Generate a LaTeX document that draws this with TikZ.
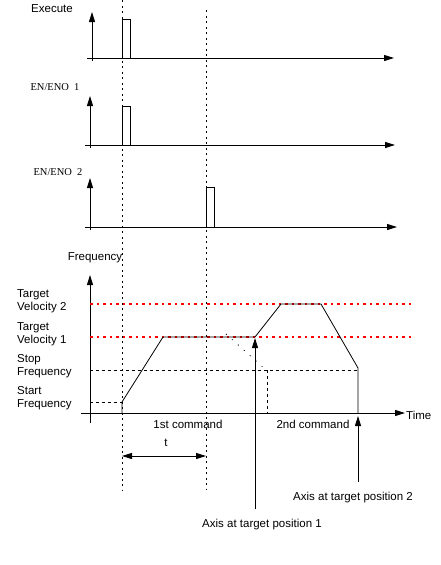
\documentclass[tikz,border=0pt]{standalone}
\usepackage{fontspec}
\setmainfont{Liberation Sans}
\newfontfamily\enofont{Liberation Serif}
\usetikzlibrary{arrows.meta}
\begin{document}
\begin{tikzpicture}[x=1pt, y=-1pt,
    axis/.style={line width=1pt, -{Triangle[length=10pt,width=6pt]}},
    pulse/.style={line width=0.8pt},
    guide/.style={line width=0.8pt, dash pattern=on 2pt off 3.5pt},
    level/.style={line width=0.8pt, dash pattern=on 3pt off 3pt},
    target/.style={red, line width=1.2pt, dash pattern=on 2.5pt off 4pt},
    lbl/.style={font=\fontsize{11.5}{13.5}\selectfont, inner sep=0pt},
    sig/.style={font=\enofont\fontsize{10.5}{12}\selectfont, inner sep=0pt},
    levlbl/.style={lbl, align=left, anchor=west}
]
\useasboundingbox (0,0) rectangle (440,565);

% Guides
\draw[guide] (122,0) -- (122,490);
\draw[guide] (206,10) -- (206,490);

% Execute
\node[lbl] (exec) at (52,9) {Execute};
\draw[axis] (92,61) -- (92,12);
\draw[axis] (87,58) -- (394,58);
\draw[pulse] (122,58) -- (122,19) -- (130,19) -- (130,58);

% EN/ENO 1
\node[sig] (eno1) at (55,87) {EN/ENO\ \ 1};
\draw[axis] (90,148) -- (90,96);
\draw[axis] (85,145) -- (395,145);
\draw[pulse] (122,145) -- (122,106) -- (130,106) -- (130,145);

% EN/ENO 2
\node[sig] (eno2) at (58,172) {EN/ENO\ \ 2};
\draw[axis] (90,230) -- (90,178);
\draw[axis] (85,227) -- (397,227);
\draw[pulse] (206,227) -- (206,187) -- (214,187) -- (214,227);

% Frequency
\node[lbl] (freq) at (95,258) {Frequency};
\draw[axis] (90,423) -- (90,275);
\draw[axis] (81,413) -- (405,413);
\node[lbl, anchor=west] (time) at (406,415) {Time};

% Levels
\node[levlbl] (tv2) at (17,301) {Target\\Velocity 2};
\node[levlbl] (tv1) at (17,334) {Target\\Velocity 1};
\node[levlbl] (stopf) at (17,366) {Stop\\Frequency};
\node[levlbl] (startf) at (17,398) {Start\\Frequency};
\draw[target] (90,304) -- (413,304);
\draw[target] (90,337) -- (413,337);
\draw[level] (90,370) -- (358,370);
\draw[level] (90,402) -- (122,402);

% Profile
\draw[pulse] (122,413) -- (122,402) -- (163,337) -- (255,337) -- (281,304)
    -- (321,304) -- (358,368) -- (358,413);
\draw[line width=0.8pt, dash pattern=on 1pt off 7pt] (226,334) -- (266,370);
\draw[level] (267,370) -- (267,413);

% Commands
\node[lbl] (cmd1) at (188,424) {1st command};
\node[lbl] (cmd2) at (313,424) {2nd command};
\node[lbl] (tlbl) at (166,443) {t};
\coordinate (tstart) at (122,456);
\coordinate (tend) at (206,456);
\draw[line width=1pt, {Triangle[length=10pt,width=6pt]}-{Triangle[length=10pt,width=6pt]}] (tstart) -- (tend);

% Target positions
\node[lbl] (pos1) at (262,525) {Axis at target position 1};
\node[lbl] (pos2) at (353,498) {Axis at target position 2};
\coordinate (tip1) at (255,338);
\coordinate (tip2) at (358,416);
\draw[axis] (pos1.north -| tip1) ++(0,-10) -- (tip1);
\draw[axis] (pos2.north -| tip2) ++(0,-10) -- (tip2);

\end{tikzpicture}
\end{document}
